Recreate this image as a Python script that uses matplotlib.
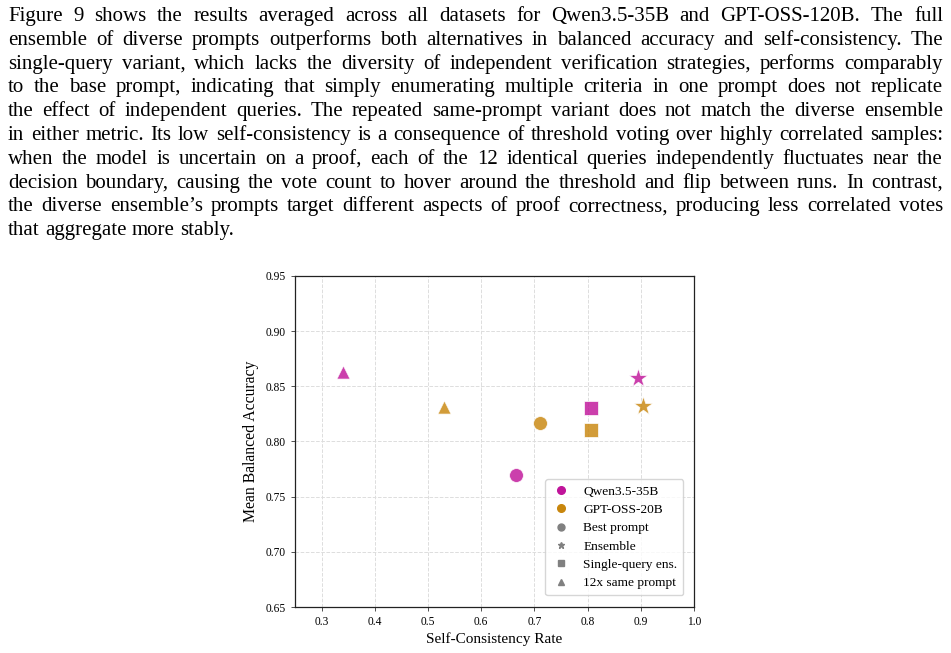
import matplotlib
matplotlib.use("Agg")
import matplotlib.pyplot as plt
from matplotlib.lines import Line2D

# data
models = ["Qwen3.5-35B", "GPT-OSS-20B"]
colors = ["#c0149a", "#c8860d"]
methods = ["Best prompt", "Ensemble", "Single-query ens.", "12x same prompt"]
markers = ["o", "*", "s", "^"]
sizes = [100, 200, 95, 90]

# self-consistency (x) and balanced accuracy (y) per method
qwen_sc = [0.665, 0.894, 0.806, 0.341]
qwen_acc = [0.770, 0.858, 0.830, 0.863]
gpt_sc = [0.711, 0.904, 0.806, 0.531]
gpt_acc = [0.817, 0.8325, 0.810, 0.831]

paragraph = [
    "Figure 9 shows the results averaged across all datasets for Qwen3.5-35B and GPT-OSS-120B. The full",
    "ensemble of diverse prompts outperforms both alternatives in balanced accuracy and self-consistency. The",
    "single-query variant, which lacks the diversity of independent verification strategies, performs comparably",
    "to the base prompt, indicating that simply enumerating multiple criteria in one prompt does not replicate",
    "the effect of independent queries. The repeated same-prompt variant does not match the diverse ensemble",
    "in either metric. Its low self-consistency is a consequence of threshold voting over highly correlated samples:",
    "when the model is uncertain on a proof, each of the 12 identical queries independently fluctuates near the",
    "decision boundary, causing the vote count to hover around the threshold and flip between runs. In contrast,",
    "the diverse ensemble\u2019s prompts target different aspects of proof correctness, producing less correlated votes",
    "that aggregate more stably.",
]

plt.rcParams["font.family"] = ["Liberation Serif", "DejaVu Serif"]

W, H = 951, 653
fig = plt.figure(figsize=(W / 100, H / 100), dpi=100)
renderer = fig.canvas.get_renderer()

# pick a font size so the last (unjustified) line is about as wide as in the page
probe = fig.text(0, 0, paragraph[-1], fontsize=13)
fs = 13 * 224 / probe.get_window_extent(renderer).width
probe.remove()

# justified paragraph on top
x_left, x_right = 8, 943
base0, dy = 21, 23.8
for i, line in enumerate(paragraph):
    y = 1 - (base0 + i * dy) / H
    words = line.split(" ")
    texts = [fig.text(0, y, w, fontsize=fs, va="baseline", ha="left") for w in words]
    widths = [t.get_window_extent(renderer).width for t in texts]
    if i == len(paragraph) - 1:
        a = fig.text(0, 0, "a b", fontsize=fs)
        b = fig.text(0, 0, "ab", fontsize=fs)
        gap = a.get_window_extent(renderer).width - b.get_window_extent(renderer).width
        a.remove()
        b.remove()
    else:
        gap = (x_right - x_left - sum(widths)) / (len(words) - 1)
    x = x_left
    for t, w in zip(texts, widths):
        t.set_x(x / W)
        x += w + gap

ax = fig.add_axes([295 / W, 46 / H, 399 / W, 331 / H])

for sc, acc, c in [(qwen_sc, qwen_acc, colors[0]), (gpt_sc, gpt_acc, colors[1])]:
    for j in range(len(methods)):
        ax.scatter(sc[j], acc[j], marker=markers[j], s=sizes[j], color=c,
                   alpha=0.82, edgecolors="white", linewidths=0.6, zorder=3)

ax.set_xlim(0.25, 1.0)
ax.set_ylim(0.65, 0.95)
ax.set_xticks([0.3, 0.4, 0.5, 0.6, 0.7, 0.8, 0.9, 1.0])
ax.set_xticklabels(["0.3", "0.4", "0.5", "0.6", "0.7", "0.8", "0.9", "1.0"])
ax.set_yticks([0.65, 0.70, 0.75, 0.80, 0.85, 0.90, 0.95])
ax.set_yticklabels(["0.65", "0.70", "0.75", "0.80", "0.85", "0.90", "0.95"])
ax.tick_params(labelsize=8.3, length=3, width=0.6, color="#333333")
ax.grid(True, linestyle="--", color="#dddddd", linewidth=0.7)
ax.set_axisbelow(True)
for s in ax.spines.values():
    s.set_linewidth(0.9)
    s.set_color("#222222")
ax.set_xlabel("Self-Consistency Rate", fontsize=11, labelpad=3)
ax.set_ylabel("Mean Balanced Accuracy", fontsize=11.3, labelpad=5)

handles = [Line2D([], [], marker="o", linestyle="", color=c, markersize=5.5) for c in colors]
handles += [Line2D([], [], marker=m, linestyle="", color="gray",
                   markersize=(4.5 if m == "*" else 5)) for m in markers]
ax.legend(handles, models + methods, loc="lower right", fontsize=9.6,
          frameon=True, edgecolor="#cccccc", fancybox=True,
          borderpad=0.45, labelspacing=0.45, handlelength=1.4, handletextpad=1.0,
          bbox_to_anchor=(0.99, 0.015))

fig.savefig("out.png", dpi=100)
